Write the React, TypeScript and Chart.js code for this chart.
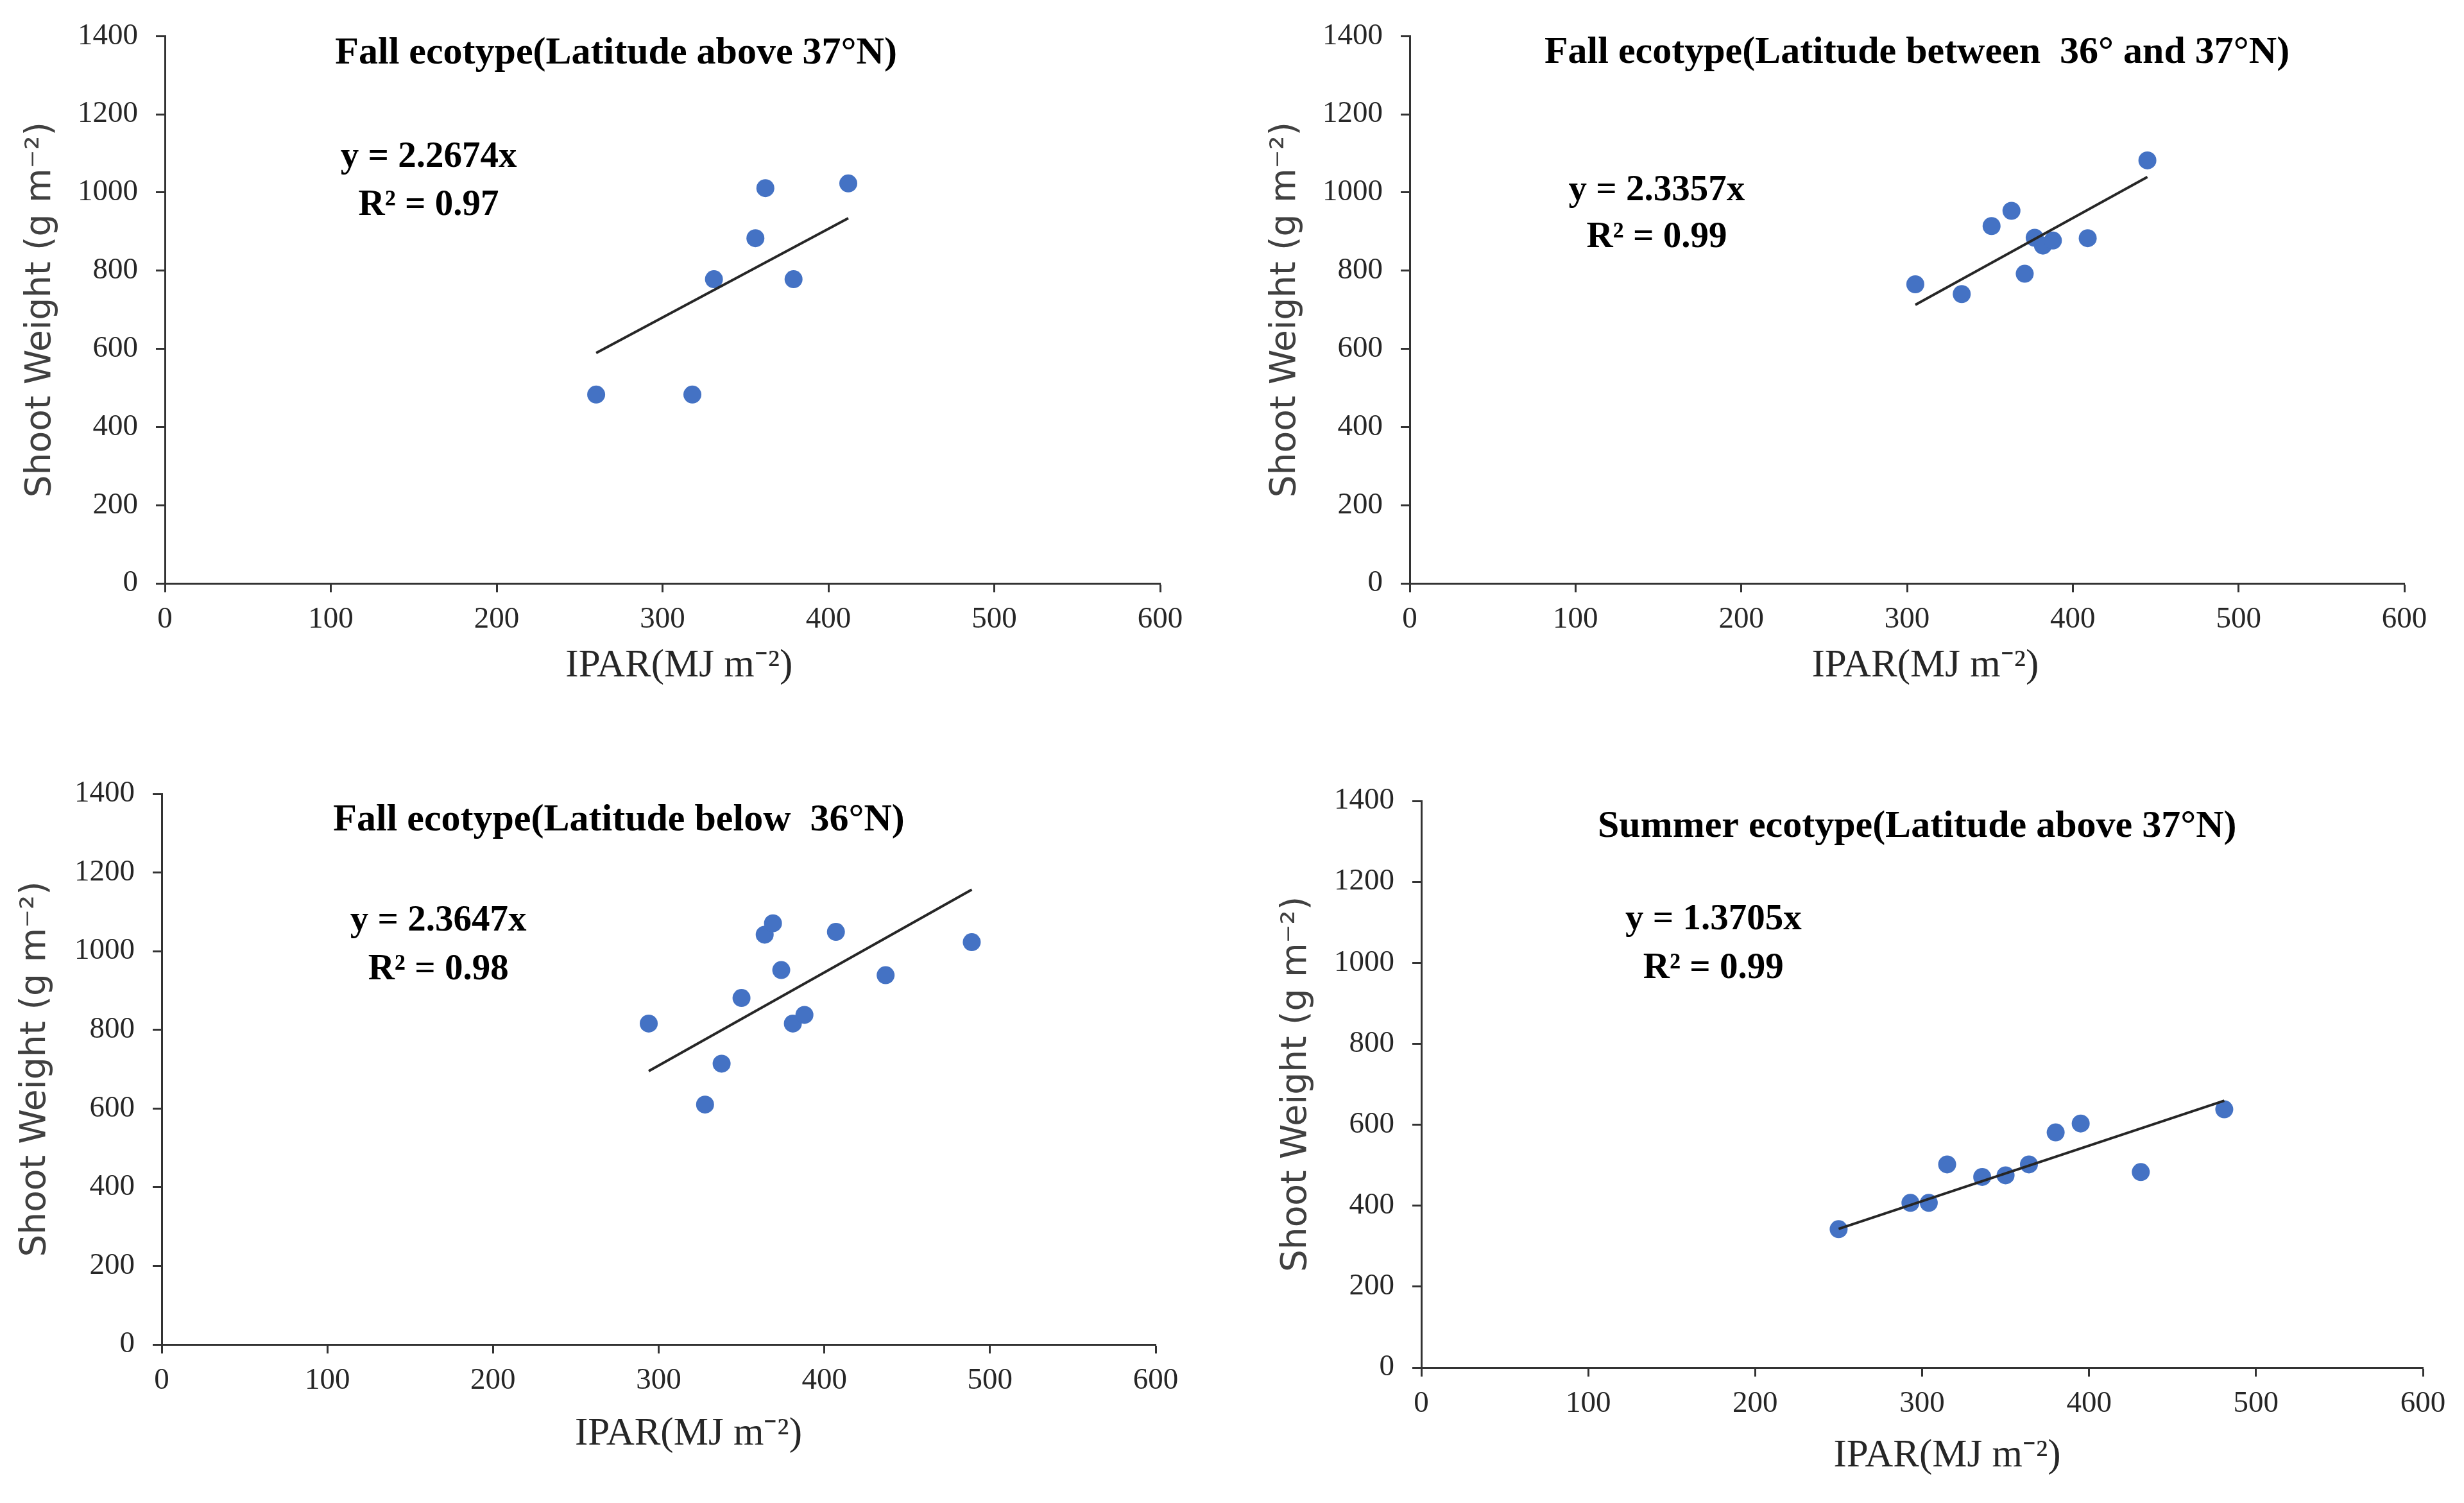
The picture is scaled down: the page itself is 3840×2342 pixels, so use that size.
import React, { useEffect, useRef } from 'react';
import Chart from 'chart.js/auto';

// Fall ecotype, latitude above 37°N
const fallNorthIPAR = [260, 318, 331, 356, 362, 379, 412];
const fallNorthShoot = [483, 483, 778, 883, 1011, 778, 1023];

// Fall ecotype, latitude between 36° and 37°N
const fallMidIPAR = [305, 333, 351, 363, 371, 377, 382, 388, 409, 445];
const fallMidShoot = [765, 740, 914, 953, 792, 884, 864, 877, 883, 1082];

// Fall ecotype, latitude below 36°N
const fallSouthIPAR = [294, 328, 338, 350, 364, 369, 374, 381, 388, 407, 437, 489];
const fallSouthShoot = [816, 610, 714, 881, 1042, 1071, 952, 816, 838, 1049, 939, 1023];

// Summer ecotype, latitude above 37°N
const summerIPAR = [250, 293, 304, 315, 336, 350, 364, 380, 395, 431, 481];
const summerShoot = [342, 407, 407, 502, 471, 475, 502, 581, 603, 483, 638];

const slopes = [2.2674, 2.3357, 2.3647, 1.3705];
const r2Values = ['0.97', '0.99', '0.98', '0.99'];
const titles = [
  'Fall ecotype(Latitude above 37°N)',
  'Fall ecotype(Latitude between  36° and 37°N)',
  'Fall ecotype(Latitude below  36°N)',
  'Summer ecotype(Latitude above 37°N)',
];
const xAxisTitle = 'IPAR(MJ m⁻²)';
const yAxisTitle = 'Shoot Weight (g m⁻²)';

const X_MAX = 600;
const X_STEP = 100;
const Y_MAX = 1400;
const Y_STEP = 200;

const CANVAS_W = 1920;
const CANVAS_H = 1171;
const SERIF = "'Liberation Serif', 'Times New Roman', serif";
const SANS = "'DejaVu Sans', sans-serif";
const TICK_FONT = 47;
const Y_TITLE_FONT = 55;
const X_TITLE_FONT = 61;
const TITLE_FONT = 60;
const EQ_FONT = 57;
const INK = '#262626';
const LINE = '#333333';
const DOT = '#4472C4';

interface Panel {
  ipar: number[];
  shoot: number[];
  slope: number;
  r2: string;
  title: string;
  left: number; // canvas position on page
  top: number;
  area: { l: number; t: number; r: number; b: number }; // plot area on page
  yTitleX: number;
  xTitleY: number;
  xTitleAt: number; // data x of the axis title centre
  titleAt: [number, number]; // data coords
  eqAt: [number, number, number]; // x, y line1, y line2
}

const panels: Panel[] = [
  {
    ipar: fallNorthIPAR, shoot: fallNorthShoot, slope: slopes[0], r2: r2Values[0], title: titles[0],
    left: 0, top: 0,
    area: { l: 257, t: 48, r: 1808, b: 909 },
    yTitleX: 64, xTitleY: 1038, xTitleAt: 310,
    titleAt: [272, 1356], eqAt: [159, 1090, 966],
  },
  {
    ipar: fallMidIPAR, shoot: fallMidShoot, slope: slopes[1], r2: r2Values[1], title: titles[1],
    left: 1920, top: 0,
    area: { l: 2197, t: 48, r: 3747, b: 909 },
    yTitleX: 2004, xTitleY: 1038, xTitleAt: 311,
    titleAt: [306, 1357], eqAt: [149, 1005, 884],
  },
  {
    ipar: fallSouthIPAR, shoot: fallSouthShoot, slope: slopes[2], r2: r2Values[2], title: titles[2],
    left: 0, top: 1171,
    area: { l: 252, t: 1237, r: 1801, b: 2095 },
    yTitleX: 56, xTitleY: 2235, xTitleAt: 318,
    titleAt: [276, 1333], eqAt: [167, 1077, 953],
  },
  {
    ipar: summerIPAR, shoot: summerShoot, slope: slopes[3], r2: r2Values[3], title: titles[3],
    left: 1920, top: 1171,
    area: { l: 2215, t: 1248, r: 3776, b: 2131 },
    yTitleX: 2021, xTitleY: 2269, xTitleAt: 315,
    titleAt: [297, 1336], eqAt: [175, 1107, 986],
  },
];

const textPlugin = {
  id: 'panelText',
  afterDatasetsDraw(chart: any, _args: any, opts: any) {
    const { ctx, scales } = chart;
    const px = (v: number) => scales.x.getPixelForValue(v);
    const py = (v: number) => scales.y.getPixelForValue(v);
    ctx.save();
    ctx.textAlign = 'center';
    ctx.textBaseline = 'middle';
    ctx.fillStyle = '#000';
    ctx.font = `bold ${TITLE_FONT}px ${SERIF}`;
    ctx.fillText(opts.title, px(opts.titleAt[0]), py(opts.titleAt[1]));
    ctx.font = `bold ${EQ_FONT}px ${SERIF}`;
    ctx.fillText(opts.eq, px(opts.eqAt[0]), py(opts.eqAt[1]));
    ctx.fillText(opts.r2, px(opts.eqAt[0]), py(opts.eqAt[2]));
    // x axis title, set a little right of centre as in the source
    ctx.fillStyle = INK;
    ctx.font = `${X_TITLE_FONT}px ${SERIF}`;
    ctx.fillText(xAxisTitle, px(opts.xTitleAt), opts.xTitleY);
    ctx.restore();
  },
};

function ScatterPanel({ p }: { p: Panel }) {
  const ref = useRef<HTMLCanvasElement | null>(null);

  useEffect(() => {
    const canvas = ref.current;
    if (!canvas) return;

    const yLH = Y_TITLE_FONT * 1.2;
    const padLeft = p.yTitleX - p.left - yLH / 2;
    const yAxisWidth = p.area.l - p.left - padLeft;
    const padTop = p.area.t - p.top;
    const padRight = p.left + CANVAS_W - p.area.r;
    const xAxisHeight = 100;
    const padBottom = p.top + CANVAS_H - p.area.b - xAxisHeight;

    const points = p.ipar.map((x, i) => ({ x, y: p.shoot[i] }));
    const xMin = Math.min(...p.ipar);
    const xMax = Math.max(...p.ipar);
    const trend = [
      { x: xMin, y: p.slope * xMin },
      { x: xMax, y: p.slope * xMax },
    ];

    const axisGrid = {
      display: true,
      drawOnChartArea: false,
      drawTicks: true,
      tickLength: 14,
      tickWidth: 3,
      tickColor: LINE,
    };
    const plain = (v: any) => String(v);

    const chart = new Chart(canvas, {
      type: 'scatter',
      data: {
        datasets: [
          {
            type: 'line',
            data: trend,
            borderColor: INK,
            borderWidth: 4,
            pointRadius: 0,
            fill: false,
            order: 0,
          } as any,
          {
            data: points,
            backgroundColor: DOT,
            borderColor: DOT,
            pointRadius: 14,
            pointBorderWidth: 0,
            order: 1,
          },
        ],
      },
      options: {
        animation: false,
        responsive: false,
        devicePixelRatio: 1,
        layout: { padding: { left: padLeft, top: padTop, right: padRight, bottom: padBottom } },
        plugins: {
          legend: { display: false },
          tooltip: { enabled: false },
          panelText: {
            title: p.title,
            eq: `y = ${p.slope}x`,
            r2: `R² = ${p.r2}`,
            titleAt: p.titleAt,
            eqAt: p.eqAt,
            xTitleAt: p.xTitleAt,
            xTitleY: p.xTitleY - p.top,
          },
        } as any,
        scales: {
          x: {
            type: 'linear',
            min: 0,
            max: X_MAX,
            ticks: {
              stepSize: X_STEP,
              callback: plain,
              color: INK,
              font: { family: SERIF, size: TICK_FONT },
              padding: 14,
              maxRotation: 0,
            },
            grid: axisGrid,
            border: { display: true, color: LINE, width: 3 },
            afterFit: (scale: any) => {
              scale.height = xAxisHeight;
            },
          },
          y: {
            type: 'linear',
            min: 0,
            max: Y_MAX,
            ticks: {
              stepSize: Y_STEP,
              callback: plain,
              color: INK,
              font: { family: SERIF, size: TICK_FONT },
              padding: 28,
            },
            grid: axisGrid,
            border: { display: true, color: LINE, width: 3 },
            title: {
              display: true,
              text: yAxisTitle,
              color: '#404040',
              font: { family: SANS, size: Y_TITLE_FONT, lineHeight: 1.2 },
              padding: 0,
            },
            afterFit: (scale: any) => {
              scale.width = yAxisWidth;
            },
          },
        },
      },
      plugins: [textPlugin],
    });

    return () => {
      chart.destroy();
    };
  }, [p]);

  return (
    <canvas
      ref={ref}
      width={CANVAS_W}
      height={CANVAS_H}
      style={{ position: 'absolute', left: p.left, top: p.top, width: CANVAS_W, height: CANVAS_H }}
    />
  );
}

export default function App() {
  return (
    <div style={{ position: 'absolute', left: 0, top: 0, width: 3840, height: 2342, background: '#fff' }}>
      {panels.map((p, i) => (
        <ScatterPanel key={i} p={p} />
      ))}
    </div>
  );
}
